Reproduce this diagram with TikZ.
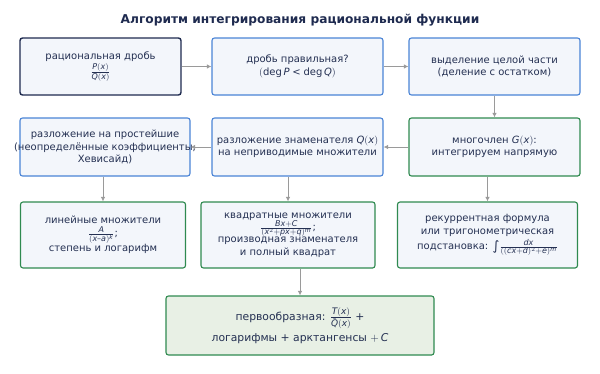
\documentclass[tikz,border=0pt]{standalone}
\usepackage{amsmath,amssymb}
\usepackage{fontspec}
\setmainfont{DejaVu Sans}
\usepackage[italic]{mathastext}
\usepackage{xcolor}
\usepackage{tikz}
\usetikzlibrary{arrows.meta,calc}

\definecolor{inknavy}{HTML}{243052}
\definecolor{framenavy}{HTML}{1E2A4F}
\definecolor{frameblue}{HTML}{4A84D6}
\definecolor{framegreen}{HTML}{2F8A50}
\definecolor{paleblue}{HTML}{F3F6FB}
\definecolor{palegreen}{HTML}{E8F0E5}
\definecolor{linkgray}{HTML}{9A9A9A}

\begin{document}
\begin{tikzpicture}[x=1pt,y=-1pt,
  font=\fontsize{10}{12.4}\selectfont, text=inknavy,
  box/.style={draw, fill=paleblue, rounded corners=2.5pt, line width=1.1pt,
    align=center, inner sep=0pt},
  bluebox/.style={box, draw=frameblue},
  greenbox/.style={box, draw=framegreen},
  link/.style={draw=linkgray, line width=1pt, -{Latex[length=4.5pt,width=4.5pt]}}]
  \useasboundingbox (0,0) rectangle (600,373);

  % title
  \node (title) at (300,20) {\fontsize{12.2}{14}\selectfont\bfseries\color{framenavy}Алгоритм интегрирования рациональной функции};

  % row 1
  \node[box, draw=framenavy, line width=1.4pt, minimum width=161pt, minimum height=57pt] (frac) at (100.5,66.5)
    {рациональная дробь\\[1pt] $\frac{P(x)}{Q(x)}$};
  \node[bluebox, minimum width=171pt, minimum height=57pt] (proper) at (297.5,66.5)
    {дробь правильная?\\ $(\deg P<\deg Q)$};
  \node[bluebox, minimum width=171pt, minimum height=57pt] (whole) at (494.5,66.5)
    {выделение целой части\\ (деление с остатком)};

  % row 2 (the long line runs over the frame, as in the original)
  \node[bluebox, minimum width=170pt, minimum height=58pt] (simple) at (105,147)
    {разложение на простейшие\\ \makebox[150pt]{(неопределённые коэффициенты,}\\ Хевисайд)};
  \node[bluebox, minimum width=171pt, minimum height=58pt] (factor) at (297.5,147)
    {разложение знаменателя $Q(x)$\\ на неприводимые множители};
  \node[greenbox, minimum width=171pt, minimum height=58pt] (poly) at (494.5,147)
    {многочлен $G(x)$:\\ интегрируем напрямую};

  % row 3
  \node[greenbox, minimum width=165pt, minimum height=66pt] (linear) at (103,235)
    {линейные множители\\ $\frac{A}{(x-a)^k}$;\\ степень и логарифм};
  \node[greenbox, minimum width=174pt, minimum height=66pt] (quad) at (288,235)
    {квадратные множители\\ $\frac{Bx+C}{(x^2+px+q)^m}$;\\ производная знаменателя\\ и полный квадрат};
  \node[greenbox, minimum width=180pt, minimum height=66pt] (recur) at (487.5,235)
    {рекуррентная формула\\ или тригонометрическая\\[3pt] подстановка: \raisebox{-1pt}{\fontsize{13}{13}\selectfont ∫}$\frac{dx}{((cx+d)^2+e)^m}$};

  % result
  \node[greenbox, fill=palegreen, minimum width=268pt, minimum height=59pt,
    font=\fontsize{10.8}{15}\selectfont] (result) at (300,325.5)
    {первообразная: $\frac{T(x)}{\tilde Q(x)}$ +\\[3pt] логарифмы + арктангенсы $+\,C$};

  \draw[link] (frac) -- (proper);
  \draw[link] (proper) -- (whole);
  \draw[link] (whole.south -| poly.north) -- (poly.north);
  \draw[link] (poly) -- (factor);
  \draw[link] (factor) -- (simple);
  \draw[link] (linear.north |- simple.south) -- (linear.north);
  \draw[link] (quad.north |- factor.south) -- (quad.north);
  \draw[link] (recur.north |- poly.south) -- (recur.north);
  \draw[link] (result.north |- quad.south) -- (result.north);
\end{tikzpicture}
\end{document}
